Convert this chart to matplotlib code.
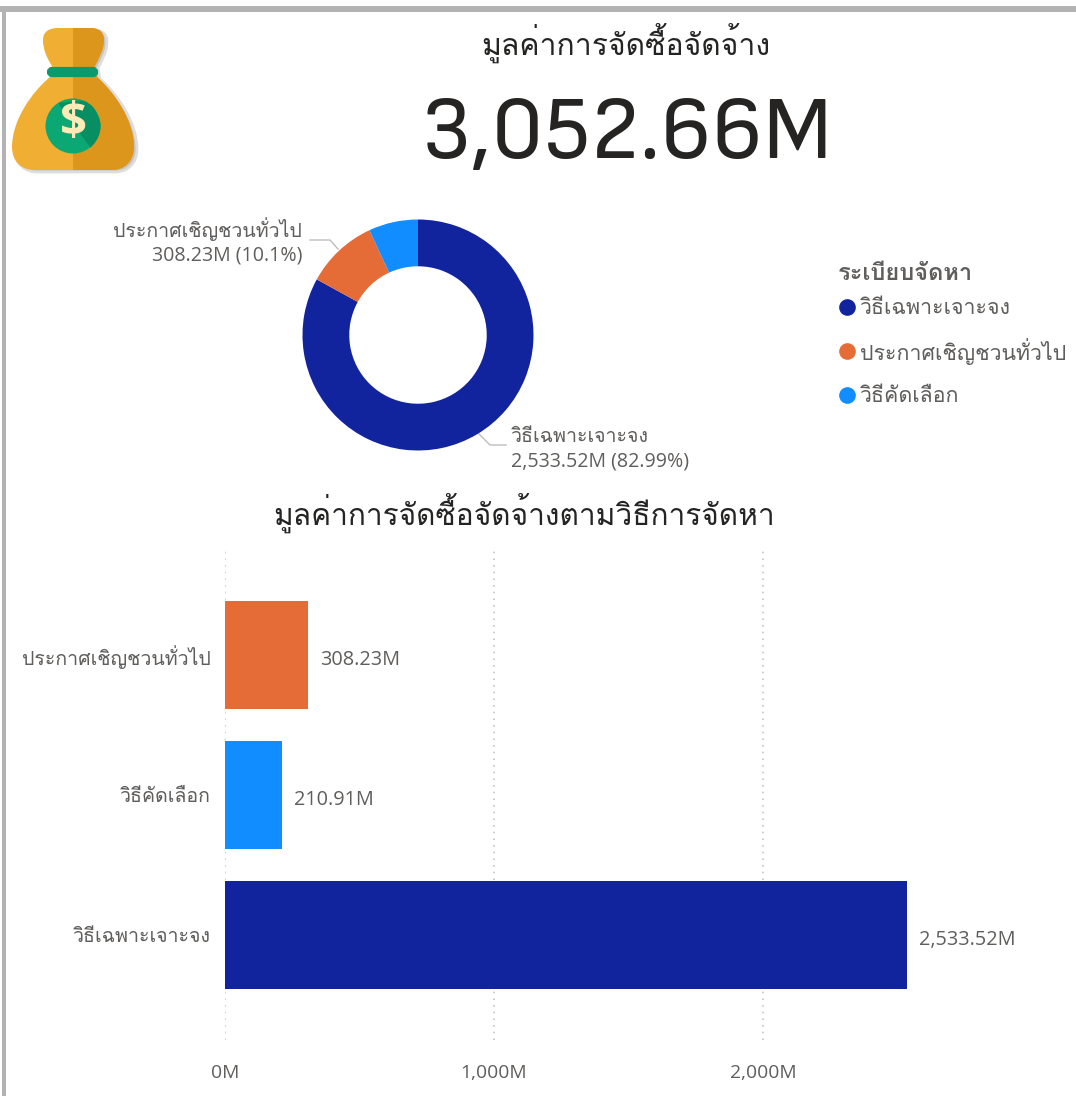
import matplotlib
matplotlib.use('Agg')
import matplotlib.pyplot as plt
from matplotlib import font_manager as fm
from matplotlib.patches import PathPatch, Circle, Rectangle, FancyBboxPatch, Polygon
from matplotlib.path import Path

# ---------- data ----------
title_total = 'มูลค่าการจัดซื้อจัดจ้าง'
total_label = '3,052.66M'
bar_title = 'มูลค่าการจัดซื้อจัดจ้างตามวิธีการจัดหา'
legend_title = 'ระเบียบจัดหา'
methods = ['วิธีเฉพาะเจาะจง', 'ประกาศเชิญชวนทั่วไป', 'วิธีคัดเลือก']
method_values = [2533.52, 308.23, 210.91]
method_colors = ['#12239E', '#E66C37', '#118DFF']
bar_categories = ['ประกาศเชิญชวนทั่วไป', 'วิธีคัดเลือก', 'วิธีเฉพาะเจาะจง']
bar_values = [308.23, 210.91, 2533.52]
bar_colors = ['#E66C37', '#118DFF', '#12239E']
x_ticks = [0, 1000, 2000]
x_tick_labels = ['0M', '1,000M', '2,000M']

W, H = 1076, 1096
names = {f.name for f in fm.fontManager.ttflist}
def pick(*c):
    return [n for n in c if n in names]
thai = pick('Loma', 'Noto Sans Thai', 'Sarabun')
ui = pick('Open Sans', 'Noto Sans') + thai + ['DejaVu Sans']
din = pick('Sofia Sans', 'Barlow', 'Roboto')
plt.rcParams['font.family'] = ui

TXT = '#605E5C'
DARK = '#252423'

fig = plt.figure(figsize=(W / 100, H / 100), dpi=100)
def box(l, t, r, b):
    return [l / W, 1 - b / H, (r - l) / W, (b - t) / H]

bg = fig.add_axes([0, 0, 1, 1], zorder=0)
bg.set_xlim(0, W); bg.set_ylim(H, 0); bg.axis('off')
bg.add_patch(Rectangle((0, 6), W, 6, color='#B3B3B3', lw=0))
bg.add_patch(Rectangle((2, 6), 4, H, color='#B3B3B3', lw=0))

# money bag icon
def bag_path(dx=0, dy=0):
    V = [(43, 40), (43, 31), (50, 28), (58, 28),
         (90, 28), (98, 28), (104, 31), (104, 40),
         (104, 50), (99, 58), (95, 66),
         (97, 77),
         (114, 92), (134, 120), (134, 147),
         (134, 162), (124, 170), (112, 170),
         (34, 170), (22, 170), (12, 162), (12, 147),
         (12, 120), (32, 92), (50, 77),
         (52, 66),
         (47, 58), (43, 50), (43, 40), (43, 40)]
    C = [Path.MOVETO, Path.CURVE4, Path.CURVE4, Path.CURVE4,
         Path.LINETO, Path.CURVE4, Path.CURVE4, Path.CURVE4,
         Path.CURVE4, Path.CURVE4, Path.CURVE4,
         Path.LINETO,
         Path.CURVE4, Path.CURVE4, Path.CURVE4,
         Path.CURVE4, Path.CURVE4, Path.CURVE4,
         Path.LINETO, Path.CURVE4, Path.CURVE4, Path.CURVE4,
         Path.CURVE4, Path.CURVE4, Path.CURVE4,
         Path.LINETO,
         Path.CURVE4, Path.CURVE4, Path.CURVE4, Path.CLOSEPOLY]
    return Path([(x + dx, y + dy) for x, y in V], C)
bg.add_patch(PathPatch(bag_path(3, 2), fc='#C4C4C4', ec='#DDDDDD', lw=2))
bg.add_patch(PathPatch(bag_path(), fc='#F0AE33', ec='none'))
dark_half = PathPatch(bag_path(), fc='#DC961C', ec='none')
bg.add_patch(dark_half)
dark_half.set_clip_path(Rectangle((73, 0), 80, 200, transform=bg.transData))
bg.add_patch(FancyBboxPatch((49, 69), 47, 6, boxstyle='round,pad=0,rounding_size=3', fc='#0A9A6C', ec='#0A9A6C', lw=3))
coin = Circle((73, 126), 27.5, fc='#0BA873', ec='none')
bg.add_patch(coin)
shade = Polygon([(58, 103), (90, 100), (105, 130), (92, 150)], fc='#078F63', ec='none')
bg.add_patch(shade)
shade.set_clip_path(coin)
bg.text(73, 124, '$', fontsize=34, fontweight='bold', color='#FCEBB6', ha='center', va='center', family=['Open Sans'])

bg.text(626, 43, title_total, fontsize=21.7, color=DARK, ha='center', va='center', family=thai)
bg.text(627, 136, total_label, fontsize=65, fontweight=500, color=DARK, ha='center', va='center', family=din)
bg.text(524, 513, bar_title, fontsize=21.5, color=DARK, ha='center', va='center', family=thai)

# donut
donut = fig.add_axes(box(418 - 115.5, 335 - 115.5, 418 + 115.5, 335 + 115.5), zorder=1)
donut.pie(method_values, colors=method_colors, startangle=90, counterclock=False,
          radius=1, wedgeprops=dict(width=0.405, edgecolor='none'))
donut.set_xlim(-1, 1); donut.set_ylim(-1, 1)

# donut labels
pct = ['82.99%', '10.1%']
FS = 14.1
bg.text(302, 229, methods[1], fontsize=FS, color=TXT, ha='right', va='center', family=thai)
bg.text(302, 256, f'{method_values[1]:,.2f}M ({pct[1]})', fontsize=FS, color=TXT, ha='right', va='center')
bg.text(511, 437, methods[0], fontsize=FS, color=TXT, ha='left', va='center', family=thai)
bg.text(511, 462, f'{method_values[0]:,.2f}M ({pct[0]})', fontsize=FS, color=TXT, ha='left', va='center')
bg.plot([310, 330, 338], [240, 240, 249], color='#BDBDBD', lw=1)
bg.plot([478, 490, 506], [433, 445, 445], color='#BDBDBD', lw=1)

# legend
bg.text(838, 273, legend_title, fontsize=17, fontweight='bold', color=TXT, ha='left', va='center', family=thai)
for lbl, col, y in zip(methods, method_colors, [307, 351, 395]):
    bg.plot([847], [y], 'o', ms=12, color=col, mew=0)
    bg.text(860, y + 1, lbl, fontsize=15.4, color=TXT, ha='left', va='center', family=thai)

# bars
top, bottom = 550, 1040
ax = fig.add_axes(box(225, top, 225 + 269 * 3, bottom), zorder=1)
ax.patch.set_alpha(0)
pos = range(len(bar_categories))
ax.barh(list(pos), bar_values, height=0.765, color=bar_colors, zorder=3)
ax.set_xlim(0, 3000)
ax.set_ylim((bottom - 795) / 140 + 1, (top - 795) / 140 + 1)
ax.set_yticks(list(pos), bar_categories, family=thai, fontsize=FS, color=TXT)
ax.set_xticks(x_ticks, x_tick_labels, fontsize=13.9, color=TXT)
ax.tick_params(length=0)
ax.tick_params(axis='y', pad=10.5)
ax.tick_params(axis='x', pad=17)
ax.grid(axis='x', color='#C8C6C4', linestyle=(0, (1, 3)), lw=1.2, zorder=0)
ax.grid(axis='y', visible=False)
for s in ax.spines.values():
    s.set_visible(False)
for i, v in enumerate(bar_values):
    ax.annotate(f'{v:,.2f}M', (v, i), xytext=(9, -3.5), textcoords='offset points', va='center', ha='left',
                fontsize=14.3, color=TXT)

fig.savefig('out.png', dpi=100)
